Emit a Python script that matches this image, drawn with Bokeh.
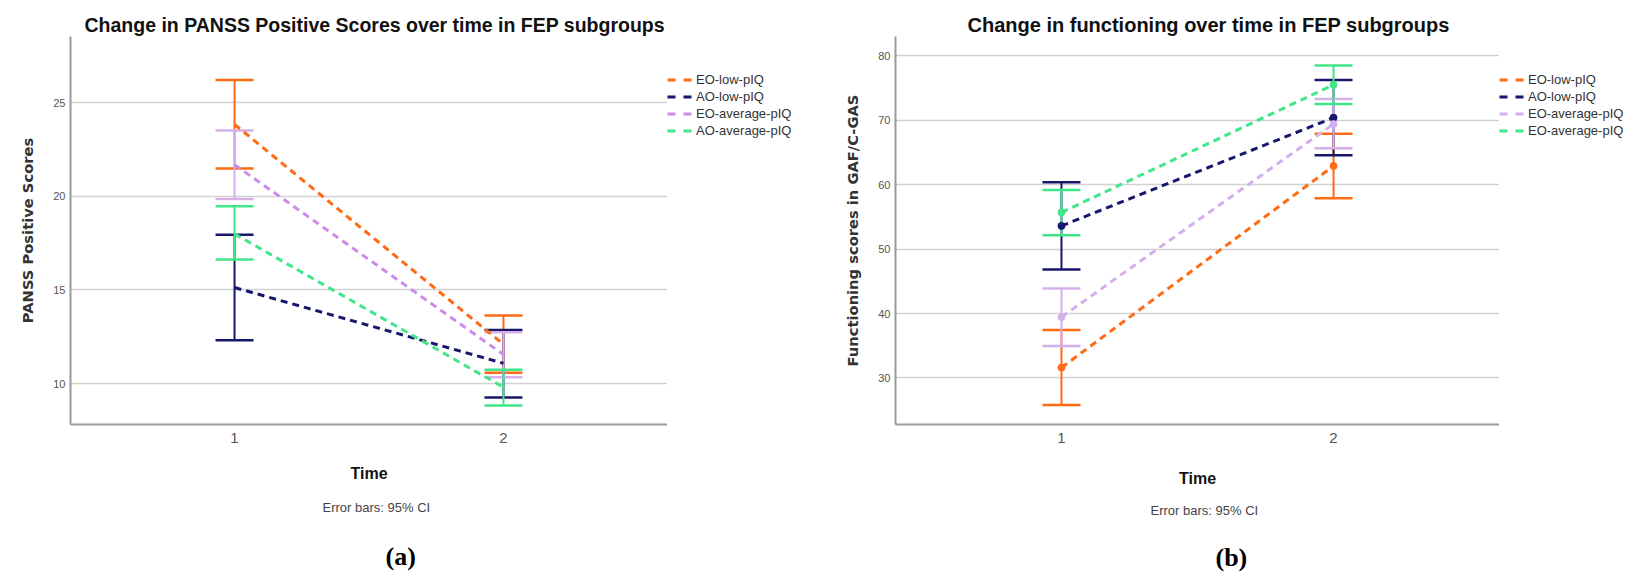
from bokeh.plotting import figure
from bokeh.models import (ColumnDataSource, Whisker, TeeHead, Title, Legend,
                          LegendItem, FixedTicker, Range1d)
from bokeh.layouts import row
from bokeh.embed import file_html
from bokeh.resources import INLINE

# ---------------- data ----------------
time_points = [1, 2]
time_labels = ["1", "2"]

# Panel (a): PANSS positive scores
panss_labels = ["EO-low-pIQ", "AO-low-pIQ", "EO-average-pIQ", "AO-average-pIQ"]
panss_eo_low_mean = [23.85, 12.10]
panss_eo_low_lower = [21.50, 10.57]
panss_eo_low_upper = [26.23, 13.63]
panss_ao_low_mean = [15.13, 11.08]
panss_ao_low_lower = [12.31, 9.25]
panss_ao_low_upper = [17.95, 12.86]
panss_eo_avg_mean = [21.70, 11.55]
panss_eo_avg_lower = [19.87, 10.34]
panss_eo_avg_upper = [23.52, 12.74]
panss_ao_avg_mean = [18.00, 9.80]
panss_ao_avg_lower = [16.63, 8.83]
panss_ao_avg_upper = [19.48, 10.73]
panss_yticks = [10, 15, 20, 25]

# Panel (b): functioning (GAF / C-GAS)
gaf_labels = ["EO-low-pIQ", "AO-low-pIQ", "EO-average-pIQ", "EO-average-pIQ"]
gaf_eo_low_mean = [31.6, 62.9]
gaf_eo_low_lower = [25.8, 57.9]
gaf_eo_low_upper = [37.44, 67.9]
gaf_ao_low_mean = [53.6, 70.4]
gaf_ao_low_lower = [46.82, 64.56]
gaf_ao_low_upper = [60.36, 76.26]
gaf_eo_avg_mean = [39.45, 69.4]
gaf_eo_avg_lower = [34.97, 65.64]
gaf_eo_avg_upper = [43.9, 73.28]
gaf_ao_avg_mean = [55.7, 75.5]
gaf_ao_avg_lower = [52.15, 72.51]
gaf_ao_avg_upper = [59.18, 78.5]
gaf_yticks = [30, 40, 50, 60, 70, 80]

# ---------------- styles ----------------
ORANGE = "#ff6a14"
NAVY = "#17176c"
GREEN = "#40e68a"
PURPLE_LINE_A = "#cb8cea"
PURPLE_BAR_A = "#d6b0e8"
LAVENDER_B = "#d3b0ec"

FONT = "Liberation Sans"
NAN = float("nan")


def style_fig(p, yticks, ylabel, title, title_size, title_off, time_standoff):
    p.outline_line_color = None
    p.background_fill_color = "white"
    p.border_fill_color = "white"
    p.xgrid.visible = False
    p.ygrid.grid_line_color = "#d2d2d2"
    p.ygrid.grid_line_width = 1.5
    p.xaxis.ticker = FixedTicker(ticks=time_points)
    p.xaxis.major_label_overrides = {t: l for t, l in zip(time_points, time_labels)}
    p.yaxis.ticker = FixedTicker(ticks=yticks)
    p.ygrid.ticker = FixedTicker(ticks=yticks)
    for ax in (p.xaxis, p.yaxis):
        ax.major_tick_line_color = None
        ax.minor_tick_line_color = None
        ax.major_tick_out = 0
        ax.major_tick_in = 0
        ax.axis_line_color = "#9a9a9a"
        ax.axis_line_width = 2
        ax.major_label_text_font = FONT
        ax.major_label_text_color = "#555555"
    p.yaxis.major_label_text_font_size = "11px"
    p.yaxis.major_label_standoff = 5
    p.xaxis.major_label_text_font_size = "15px"
    p.xaxis.major_label_standoff = 8
    p.yaxis.axis_label = ylabel
    p.yaxis.axis_label_text_font = "DejaVu Sans"
    p.yaxis.axis_label_text_font_style = "bold"
    p.yaxis.axis_label_text_font_size = "14.7px"
    p.yaxis.axis_label_text_color = "#333333"
    p.yaxis.axis_label_standoff = 14
    p.xaxis.axis_label = "Time"
    p.xaxis.axis_label_text_font = FONT
    p.xaxis.axis_label_text_font_style = "bold"
    p.xaxis.axis_label_text_font_size = "16px"
    p.xaxis.axis_label_text_color = "#111111"
    p.xaxis.axis_label_standoff = time_standoff
    p.title.text = title
    p.title.text_font = FONT
    p.title.text_font_size = title_size
    p.title.text_font_style = "bold"
    p.title.text_color = "#111111"
    p.title.align = "left"
    p.title.offset = title_off
    p.title.standoff = 0
    p.title.vertical_align = "middle"


def add_below_texts(p, note_off, note_standoff, tag, tag_off, tag_standoff):
    p.add_layout(Title(text="Error bars: 95% CI", text_font=FONT,
                       text_font_size="13px", text_font_style="normal",
                       text_color="#444444", align="left", offset=note_off,
                       standoff=note_standoff, vertical_align="middle"), "below")
    p.add_layout(Title(text="(" + tag + ")", text_font="Liberation Serif",
                       text_font_size="26px", text_font_style="bold",
                       text_color="#000000", align="left", offset=tag_off,
                       standoff=tag_standoff, vertical_align="middle"), "below")


def add_series(p, mean, lower, upper, line_color, bar_color, markers):
    p.line(x=time_points, y=mean, line_color=line_color, line_width=3,
           line_dash="7 5")
    if markers:
        p.scatter(x=time_points, y=mean, size=7, fill_color=line_color,
                  line_color=line_color)
    src = ColumnDataSource(dict(base=time_points, lower=lower, upper=upper))
    w = Whisker(base="base", lower="lower", upper="upper", source=src,
                dimension="height", line_color=bar_color, line_width=2,
                upper_head=TeeHead(size=38, line_color=bar_color, line_width=2.5),
                lower_head=TeeHead(size=38, line_color=bar_color, line_width=2.5))
    p.add_layout(w)


def legend_fig(width, labels, colors, top_gap):
    """A narrow, axis-less figure holding only the legend (right of a panel)."""
    lf = figure(width=width, height=586, x_range=Range1d(0, 1),
                y_range=Range1d(0, 1), x_axis_type=None, y_axis_type=None,
                output_backend="svg", toolbar_location=None,
                min_border_left=0, min_border_right=0, min_border_top=0,
                min_border_bottom=0)
    lf.outline_line_color = None
    lf.background_fill_color = "white"
    lf.border_fill_color = "white"
    items = []
    for lab, c in zip(labels, colors):
        # legend-only swatch: the NaN values draw nothing in the frame
        r = lf.line(x=time_points, y=[NAN, NAN], line_color=c, line_width=3,
                    line_dash="8 8")
        items.append(LegendItem(label=lab, renderers=[r]))
    lg = Legend(items=items, location="top_left", orientation="vertical",
                ncols=1)
    lg.title = " "
    lg.title_text_font = FONT
    lg.title_text_font_size = "13px"
    lg.title_standoff = top_gap
    lg.label_text_font = FONT
    lg.label_text_font_size = "13px"
    lg.label_text_color = "#333333"
    lg.glyph_width = 25
    lg.glyph_height = 17
    lg.label_height = 17
    lg.spacing = 0
    lg.padding = 0
    lg.margin = 0
    lg.label_standoff = 4
    lg.border_line_alpha = 0
    lg.background_fill_alpha = 0
    lf.add_layout(lg)
    return lf


# ---------------- panel (a) ----------------
pa = figure(width=667, height=586, x_range=Range1d(0.39, 2.61),
            y_range=Range1d(7.81, 28.55), output_backend="svg",
            toolbar_location=None, min_border_left=70, min_border_right=0,
            min_border_top=36, min_border_bottom=162)
style_fig(pa, panss_yticks, "PANSS Positive Scores",
          "Change in PANSS Positive Scores over time in FEP subgroups",
          "19.5px", 14, 19)
add_series(pa, panss_eo_low_mean, panss_eo_low_lower, panss_eo_low_upper, ORANGE, ORANGE, False)
add_series(pa, panss_ao_low_mean, panss_ao_low_lower, panss_ao_low_upper, NAVY, NAVY, False)
add_series(pa, panss_eo_avg_mean, panss_eo_avg_lower, panss_eo_avg_upper, PURPLE_LINE_A, PURPLE_BAR_A, False)
add_series(pa, panss_ao_avg_mean, panss_ao_avg_lower, panss_ao_avg_upper, GREEN, GREEN, False)
add_below_texts(pa, 252, 28, "a", 315, 23)
la = legend_fig(153, panss_labels, [ORANGE, NAVY, PURPLE_LINE_A, GREEN], 20)

# ---------------- panel (b) ----------------
pb = figure(width=679, height=586, x_range=Range1d(0.39, 2.61),
            y_range=Range1d(22.77, 83.0), output_backend="svg",
            toolbar_location=None, min_border_left=75, min_border_right=0,
            min_border_top=36, min_border_bottom=158)
style_fig(pb, gaf_yticks, "Functioning scores in GAF/C-GAS",
          "Change in functioning over time in FEP subgroups", "20px", 72, 24)
add_series(pb, gaf_eo_low_mean, gaf_eo_low_lower, gaf_eo_low_upper, ORANGE, ORANGE, True)
add_series(pb, gaf_ao_low_mean, gaf_ao_low_lower, gaf_ao_low_upper, NAVY, NAVY, True)
add_series(pb, gaf_eo_avg_mean, gaf_eo_avg_lower, gaf_eo_avg_upper, LAVENDER_B, LAVENDER_B, True)
add_series(pb, gaf_ao_avg_mean, gaf_ao_avg_lower, gaf_ao_avg_upper, GREEN, GREEN, True)
add_below_texts(pb, 255, 24, "b", 320, 23)
lb = legend_fig(143, gaf_labels, [ORANGE, NAVY, LAVENDER_B, GREEN], 20)

layout = row(pa, la, pb, lb)
open("out.html", "w").write(file_html(layout, INLINE, title="FEP subgroups"))
